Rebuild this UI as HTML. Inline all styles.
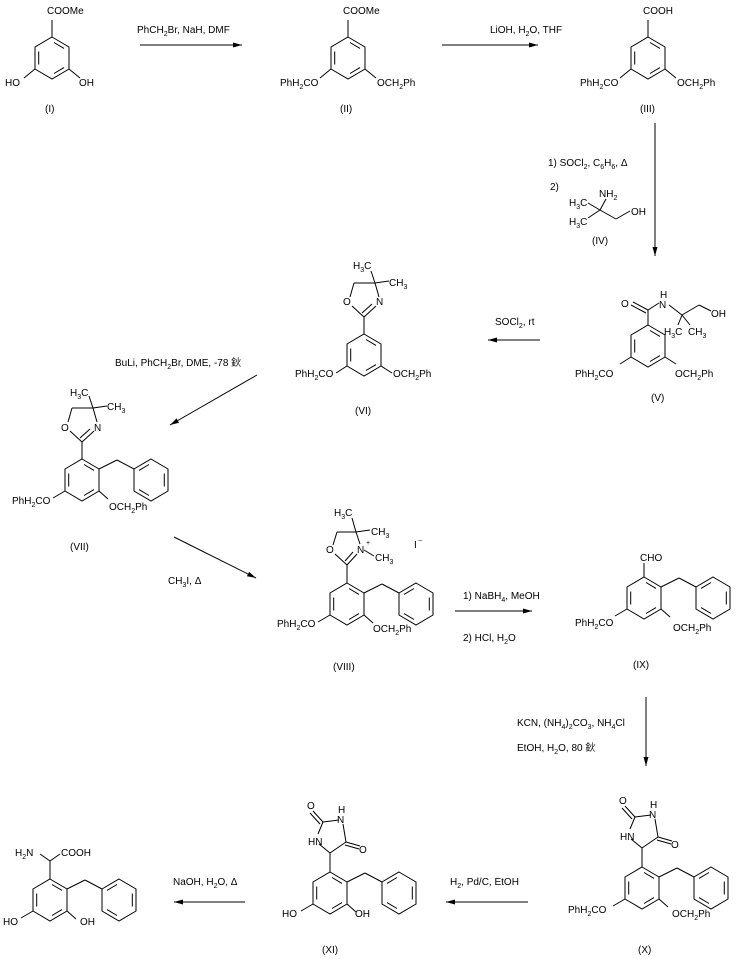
<!DOCTYPE html>
<html><head><meta charset="utf-8"><style>
html,body{margin:0;padding:0;background:#fff;}
svg{display:block;}
text{font-family:"Liberation Sans","Noto Sans CJK SC",sans-serif;font-size:10px;fill:#000;}
.s{font-size:7px;}
</style></head><body>
<svg width="741" height="959" viewBox="0 0 741 959" xmlns="http://www.w3.org/2000/svg">
<defs>
<g id="ring" fill="none" stroke="#000" stroke-width="1">
<polygon points="0,-21 17,-11 17,11 0,21 -17,11 -17,-11"/>
<line x1="-13.3" y1="-6.5" x2="-13.3" y2="6.5"/>
<line x1="2" y1="-15.5" x2="12" y2="-9.6"/>
<line x1="2" y1="15.5" x2="12" y2="9.6"/>
</g>
<g id="ph" fill="none" stroke="#000" stroke-width="1">
<polygon points="0,-21 17,-11 17,11 0,21 -17,11 -17,-11"/>
<line x1="13.3" y1="-6.5" x2="13.3" y2="6.5"/>
<line x1="-2" y1="-15.5" x2="-12" y2="-9.6"/>
<line x1="-2" y1="15.5" x2="-12" y2="9.6"/>
</g>
<g id="core" fill="none" stroke="#000" stroke-width="1">
<use href="#ring"/>
<line x1="17" y1="-11" x2="35" y2="-20"/>
<line x1="35" y1="-20" x2="52" y2="-11"/>
<use href="#ph" x="69" y="0"/>
<line x1="-17" y1="11" x2="-29" y2="18"/>
<line x1="17" y1="11" x2="26" y2="19"/>
</g>
<marker id="ah" markerWidth="10" markerHeight="6" refX="9" refY="3" orient="auto" markerUnits="userSpaceOnUse">
<path d="M0,0.5 L9,3 L0,5.5 Z" fill="#000"/>
</marker>
</defs>

<g stroke="#000" stroke-width="1" fill="none">
<line x1="140" y1="45" x2="242" y2="45" marker-end="url(#ah)"/>
<line x1="442" y1="45" x2="538" y2="45" marker-end="url(#ah)"/>
<line x1="655" y1="123" x2="655" y2="256" marker-end="url(#ah)"/>
<line x1="540" y1="340" x2="488" y2="340" marker-end="url(#ah)"/>
<line x1="257" y1="375" x2="170" y2="425" marker-end="url(#ah)"/>
<line x1="174" y1="537" x2="256" y2="578" marker-end="url(#ah)"/>
<line x1="455" y1="611" x2="532" y2="611" marker-end="url(#ah)"/>
<line x1="646" y1="697" x2="646" y2="766" marker-end="url(#ah)"/>
<line x1="528" y1="902" x2="446" y2="902" marker-end="url(#ah)"/>
<line x1="245" y1="902" x2="174" y2="902" marker-end="url(#ah)"/>

<use href="#ring" x="52" y="58"/>
<line x1="52" y1="37" x2="52" y2="20"/><line x1="35" y1="69" x2="24" y2="78"/><line x1="69" y1="69" x2="80" y2="78"/>
<use href="#ring" x="348" y="58"/>
<line x1="348" y1="37" x2="348" y2="20"/><line x1="331" y1="69" x2="320" y2="78"/><line x1="365" y1="69" x2="376" y2="78"/>
<use href="#ring" x="648" y="58"/>
<line x1="648" y1="37" x2="648" y2="20"/><line x1="631" y1="69" x2="620" y2="78"/><line x1="665" y1="69" x2="676" y2="78"/>
<line x1="600" y1="210" x2="606" y2="199"/><line x1="600" y1="210" x2="588" y2="203"/><line x1="600" y1="210" x2="588" y2="218"/>
<line x1="600" y1="210" x2="616" y2="219"/><line x1="616" y1="219" x2="630" y2="211"/>
<!-- V -->
<use href="#ring" x="648" y="346"/>
<line x1="648" y1="325" x2="648" y2="310"/>
<line x1="648" y1="310" x2="633" y2="302"/><line x1="646" y1="313" x2="631" y2="305"/>
<line x1="648" y1="310" x2="659" y2="303"/>
<line x1="669" y1="305" x2="682" y2="315"/><line x1="682" y1="315" x2="699" y2="305"/><line x1="699" y1="305" x2="711" y2="311"/>
<line x1="682" y1="315" x2="678" y2="325"/><line x1="682" y1="315" x2="690" y2="325"/>
<line x1="631" y1="357" x2="620" y2="364"/><line x1="665" y1="357" x2="676" y2="364"/>
<!-- VI -->
<use href="#ring" x="364" y="355"/>
<line x1="364" y1="334" x2="364" y2="317"/>
<line x1="364" y1="317" x2="352" y2="306"/><line x1="364" y1="317" x2="376" y2="306"/><line x1="362" y1="313" x2="372" y2="304"/>
<line x1="350" y1="297" x2="354" y2="283"/><line x1="354" y1="283" x2="375" y2="283"/><line x1="375" y1="283" x2="379" y2="297"/>
<line x1="375" y1="283" x2="371" y2="271"/><line x1="375" y1="283" x2="389" y2="281"/>
<line x1="347" y1="366" x2="336" y2="373"/><line x1="381" y1="366" x2="392" y2="373"/>
<!-- VII -->
<use href="#core" x="82" y="480"/>
<line x1="82" y1="459" x2="82" y2="442"/>
<line x1="82" y1="442" x2="70" y2="431"/><line x1="82" y1="442" x2="94" y2="431"/><line x1="80" y1="438" x2="90" y2="429"/>
<line x1="68" y1="422" x2="72" y2="408"/><line x1="72" y1="408" x2="93" y2="408"/><line x1="93" y1="408" x2="97" y2="422"/>
<line x1="93" y1="408" x2="89" y2="396"/><line x1="93" y1="408" x2="107" y2="406"/>
<!-- VIII -->
<use href="#core" x="347" y="604"/>
<line x1="347" y1="583" x2="347" y2="565"/>
<line x1="347" y1="565" x2="335" y2="554"/><line x1="347" y1="565" x2="357" y2="554"/><line x1="345" y1="561" x2="353" y2="552"/>
<line x1="333" y1="545" x2="337" y2="532"/><line x1="337" y1="532" x2="356" y2="532"/><line x1="356" y1="532" x2="360" y2="544"/>
<line x1="356" y1="532" x2="352" y2="518"/><line x1="356" y1="532" x2="370" y2="530"/>
<line x1="364" y1="550" x2="374" y2="556"/>
<!-- IX -->
<use href="#core" x="644" y="598"/>
<line x1="644" y1="577" x2="644" y2="563"/>
<!-- X -->
<g id="hyd">
<use href="#core" x="642" y="888"/>
<line x1="642" y1="867" x2="642" y2="848"/>
<line x1="642" y1="848" x2="631" y2="839"/><line x1="630" y1="829" x2="635" y2="817"/>
<line x1="635" y1="817" x2="625" y2="806"/><line x1="632" y1="819" x2="622" y2="808"/>
<line x1="635" y1="817" x2="651" y2="815"/><line x1="655" y1="819" x2="658" y2="837"/>
<line x1="658" y1="837" x2="672" y2="841"/><line x1="657" y1="840" x2="671" y2="844"/>
<line x1="658" y1="837" x2="642" y2="848"/>
</g>
<use href="#hyd" x="-312" y="5"/>
<use href="#core" x="50" y="900"/>
<line x1="50" y1="879" x2="50" y2="861"/><line x1="50" y1="861" x2="40" y2="854"/><line x1="50" y1="861" x2="60" y2="854"/>
</g>

<text x="47" y="14">COOMe</text><text x="5" y="86">HO</text><text x="79" y="86">OH</text><text x="45" y="112">(I)</text>
<text x="137" y="33">PhCH<tspan class="s" dy="3">2</tspan><tspan dy="-3">Br, NaH, DMF</tspan></text>
<text x="343" y="14">COOMe</text><text x="280" y="86">PhH<tspan class="s" dy="3">2</tspan><tspan dy="-3">CO</tspan></text><text x="377" y="86">OCH<tspan class="s" dy="3">2</tspan><tspan dy="-3">Ph</tspan></text><text x="340" y="112">(II)</text>
<text x="490" y="33">LiOH, H<tspan class="s" dy="3">2</tspan><tspan dy="-3">O, THF</tspan></text>
<text x="643" y="14">COOH</text><text x="580" y="86">PhH<tspan class="s" dy="3">2</tspan><tspan dy="-3">CO</tspan></text><text x="677" y="86">OCH<tspan class="s" dy="3">2</tspan><tspan dy="-3">Ph</tspan></text><text x="640" y="112">(III)</text>
<text x="548" y="166">1)  SOCl<tspan class="s" dy="3">2</tspan><tspan dy="-3">, C</tspan><tspan class="s" dy="3">6</tspan><tspan dy="-3">H</tspan><tspan class="s" dy="3">6</tspan><tspan dy="-3">, Δ</tspan></text>
<text x="550" y="190">2)</text>
<text x="599" y="197">NH<tspan class="s" dy="3">2</tspan></text>
<text x="569" y="206">H<tspan class="s" dy="3">3</tspan><tspan dy="-3">C</tspan></text>
<text x="569" y="225">H<tspan class="s" dy="3">3</tspan><tspan dy="-3">C</tspan></text>
<text x="631" y="215">OH</text><text x="592" y="244">(IV)</text>
<text x="621" y="307">O</text><text x="659" y="308">N</text><text x="660" y="298">H</text><text x="711" y="317">OH</text>
<text x="664" y="335">H<tspan class="s" dy="3">3</tspan><tspan dy="-3">C</tspan></text><text x="688" y="335">CH<tspan class="s" dy="3">3</tspan></text>
<text x="575" y="377">PhH<tspan class="s" dy="3">2</tspan><tspan dy="-3">CO</tspan></text><text x="675" y="377">OCH<tspan class="s" dy="3">2</tspan><tspan dy="-3">Ph</tspan></text><text x="651" y="401">(V)</text>
<text x="495" y="325">SOCl<tspan class="s" dy="3">2</tspan><tspan dy="-3">, rt</tspan></text>
<text x="353" y="269">H<tspan class="s" dy="3">3</tspan><tspan dy="-3">C</tspan></text><text x="389" y="286">CH<tspan class="s" dy="3">3</tspan></text>
<text x="343" y="305">O</text><text x="376" y="305">N</text>
<text x="295" y="377">PhH<tspan class="s" dy="3">2</tspan><tspan dy="-3">CO</tspan></text><text x="393" y="377">OCH<tspan class="s" dy="3">2</tspan><tspan dy="-3">Ph</tspan></text><text x="355" y="414">(VI)</text>
<text x="115" y="366">BuLi, PhCH<tspan class="s" dy="3">2</tspan><tspan dy="-3">Br, DME, -78 鈥</tspan></text>
<text x="70" y="396">H<tspan class="s" dy="3">3</tspan><tspan dy="-3">C</tspan></text><text x="107" y="410">CH<tspan class="s" dy="3">3</tspan></text>
<text x="61" y="431">O</text><text x="94" y="431">N</text>
<text x="12" y="504">PhH<tspan class="s" dy="3">2</tspan><tspan dy="-3">CO</tspan></text><text x="109" y="510">OCH<tspan class="s" dy="3">2</tspan><tspan dy="-3">Ph</tspan></text><text x="70" y="550">(VII)</text>
<text x="168" y="584">CH<tspan class="s" dy="3">3</tspan><tspan dy="-3">I, Δ</tspan></text>
<text x="334" y="516">H<tspan class="s" dy="3">3</tspan><tspan dy="-3">C</tspan></text><text x="371" y="535">CH<tspan class="s" dy="3">3</tspan></text>
<text x="326" y="553">O</text><text x="357" y="553">N</text><text x="366" y="545" class="s">+</text><text x="375" y="561">CH<tspan class="s" dy="3">3</tspan></text>
<text x="414" y="548">I</text><text x="418" y="543" class="s">−</text>
<text x="277" y="627">PhH<tspan class="s" dy="3">2</tspan><tspan dy="-3">CO</tspan></text><text x="373" y="632">OCH<tspan class="s" dy="3">2</tspan><tspan dy="-3">Ph</tspan></text><text x="333" y="670">(VIII)</text>
<text x="463" y="599">1) NaBH<tspan class="s" dy="3">4</tspan><tspan dy="-3">, MeOH</tspan></text>
<text x="463" y="641">2) HCl, H<tspan class="s" dy="3">2</tspan><tspan dy="-3">O</tspan></text>
<text x="640" y="561">CHO</text>
<text x="575" y="626">PhH<tspan class="s" dy="3">2</tspan><tspan dy="-3">CO</tspan></text><text x="673" y="631">OCH<tspan class="s" dy="3">2</tspan><tspan dy="-3">Ph</tspan></text><text x="633" y="668">(IX)</text>
<text x="517" y="726">KCN, (NH<tspan class="s" dy="3">4</tspan><tspan dy="-3">)</tspan><tspan class="s" dy="3">2</tspan><tspan dy="-3">CO</tspan><tspan class="s" dy="3">3</tspan><tspan dy="-3">, NH</tspan><tspan class="s" dy="3">4</tspan><tspan dy="-3">Cl</tspan></text>
<text x="517" y="751">EtOH, H<tspan class="s" dy="3">2</tspan><tspan dy="-3">O, 80 鈥</tspan></text>
<text x="619" y="804">O</text><text x="649" y="818">N</text><text x="650" y="808">H</text><text x="620" y="840">HN</text><text x="671" y="848">O</text>
<text x="568" y="913">PhH<tspan class="s" dy="3">2</tspan><tspan dy="-3">CO</tspan></text><text x="672" y="917">OCH<tspan class="s" dy="3">2</tspan><tspan dy="-3">Ph</tspan></text><text x="638" y="953">(X)</text>
<text x="450" y="885">H<tspan class="s" dy="3">2</tspan><tspan dy="-3">, Pd/C, EtOH</tspan></text>
<text x="307" y="809">O</text><text x="337" y="823">N</text><text x="338" y="813">H</text><text x="308" y="845">HN</text><text x="359" y="853">O</text>
<text x="282" y="917">HO</text><text x="355" y="917">OH</text><text x="322" y="953">(XI)</text>
<text x="173" y="885">NaOH, H<tspan class="s" dy="3">2</tspan><tspan dy="-3">O, Δ</tspan></text>
<text x="15" y="856">H<tspan class="s" dy="3">2</tspan><tspan dy="-3">N</tspan></text><text x="61" y="856">COOH</text>
<text x="3" y="925">HO</text><text x="80" y="925">OH</text>
</svg>
</body></html>
